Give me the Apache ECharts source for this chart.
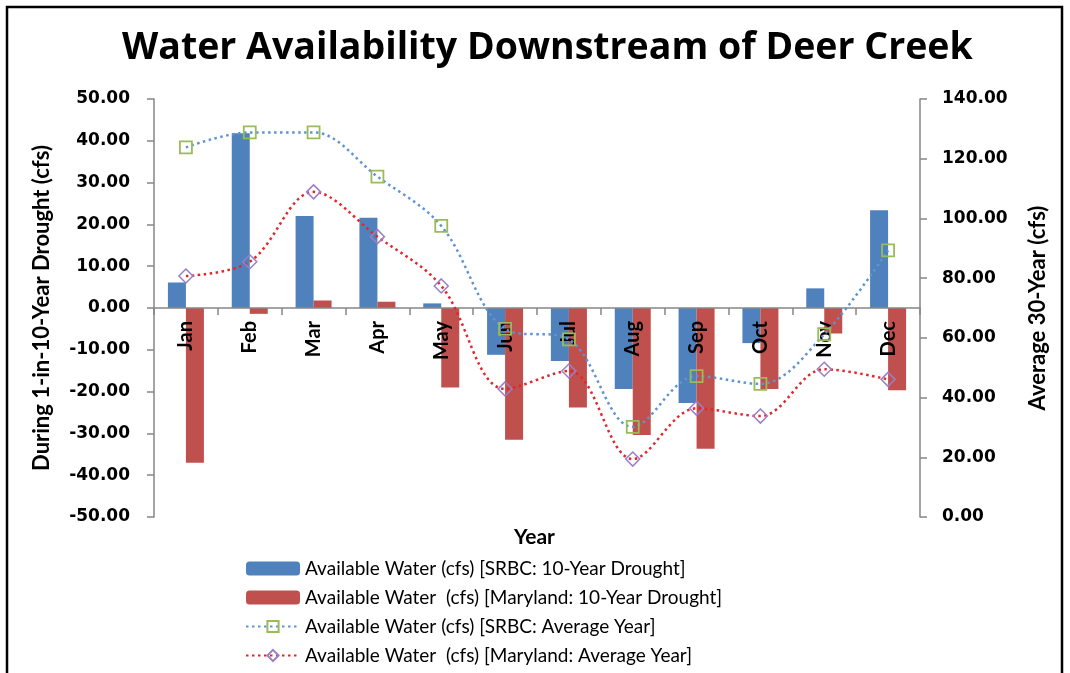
<!DOCTYPE html>
<html>
<head>
<meta charset="utf-8">
<script src="https://cdn.jsdelivr.net/npm/echarts@6/dist/echarts.min.js"></script>
<style>
html,body{margin:0;padding:0;background:#fff;}
#chart{width:1070px;height:673px;}
</style>
</head>
<body>
<div id="chart"></div>
<script>
const months = ['Jan','Feb','Mar','Apr','May','Jun','Jul','Aug','Sep','Oct','Nov','Dec'];
const srbcDrought = [6.1, 41.8, 22.0, 21.6, 1.1, -11.2, -12.7, -19.4, -22.7, -8.4, 4.7, 23.4];
const mdDrought = [-37.0, -1.4, 1.8, 1.5, -19.0, -31.5, -23.8, -30.4, -33.7, -19.4, -6.1, -19.7];
const srbcAvg = [123.8, 128.8, 128.8, 114.0, 97.5, 63.0, 59.5, 30.2, 47.2, 44.6, 61.2, 89.3];
const mdAvg = [80.7, 85.5, 108.9, 93.9, 77.4, 42.9, 48.9, 19.4, 36.4, 33.8, 49.5, 46.1];
const seriesNames = [
  'Available Water (cfs) [SRBC: 10-Year Drought]',
  'Available Water  (cfs) [Maryland: 10-Year Drought]',
  'Available Water (cfs) [SRBC: Average Year]',
  'Available Water  (cfs) [Maryland: Average Year]'
];
const titleText = 'Water Availability Downstream of Deer Creek';
const leftAxisName = 'During 1-in-10-Year Drought (cfs)';
const rightAxisName = 'Average 30-Year (cfs)';
const xAxisName = 'Year';

const FONT = 'Lato, "Open Sans", sans-serif';
const TITLEFONT = '"Open Sans", Lato, sans-serif';
const NUMFONT = '"DejaVu Sans", "Open Sans", sans-serif';
const chart = echarts.init(document.getElementById('chart'), null, {renderer: 'canvas'});
const axisGray = '#868686';
const gridTop = 99, gridBottom = 156, chartH = 673;
const plotH = chartH - gridTop - gridBottom;

chart.setOption({
  backgroundColor: '#fff',
  animation: false,
  textStyle: {fontFamily: FONT},
  title: {
    text: titleText,
    left: 122,
    top: 29,
    padding: 0,
    textStyle: {fontFamily: TITLEFONT, fontSize: 37.5, fontWeight: 'bold', color: '#000'}
  },
  graphic: [{
    type: 'rect',
    shape: {x: 7, y: 7, width: 1055, height: 700},
    style: {fill: 'none', stroke: '#000', lineWidth: 2.5},
    silent: true
  }, {
    type: 'text',
    left: 514,
    top: 527,
    style: {text: xAxisName, font: 'bold 21px ' + FONT, fill: '#000'}
  }],
  grid: {left: 154, right: 150, top: gridTop, bottom: gridBottom, containLabel: false},
  legend: {
    orient: 'vertical',
    left: 245,
    top: 559,
    height: 114,
    padding: 0,
    itemWidth: 54,
    itemHeight: 14,
    itemGap: 10,
    selectedMode: false,
    textStyle: {fontFamily: FONT, fontSize: 19, color: '#000'},
    data: seriesNames
  },
  xAxis: {
    type: 'category',
    data: months,
    boundaryGap: true,
    offset: -plotH / 2,
    z: 4,
    axisLine: {onZero: false, lineStyle: {color: axisGray, width: 1.5}},
    axisTick: {show: true, length: 7, lineStyle: {color: axisGray, width: 1.5}},
    axisLabel: {rotate: 90, margin: 13, fontFamily: FONT, fontSize: 20, fontWeight: 'bold', color: '#000'},
    splitLine: {show: false}
  },
  yAxis: [{
    type: 'value',
    min: -50, max: 50, interval: 10,
    name: leftAxisName,
    nameLocation: 'middle',
    nameGap: 101,
    nameRotate: 90,
    nameTextStyle: {fontFamily: FONT, fontSize: 22, fontWeight: 'bold', color: '#000'},
    axisLine: {show: true, lineStyle: {color: axisGray, width: 1.5}},
    axisTick: {show: true, length: 7, lineStyle: {color: axisGray, width: 1.5}},
    axisLabel: {margin: 24, fontFamily: NUMFONT, fontSize: 17, fontWeight: 'bold', color: '#000', formatter: v => v.toFixed(2)},
    splitLine: {show: false}
  }, {
    type: 'value',
    min: 0, max: 140, interval: 20,
    position: 'right',
    name: rightAxisName,
    nameLocation: 'middle',
    nameGap: 107,
    nameRotate: 90,
    nameTextStyle: {fontFamily: FONT, fontSize: 22, fontWeight: 'bold', color: '#000'},
    axisLine: {show: true, lineStyle: {color: axisGray, width: 1.5}},
    axisTick: {show: true, length: 7, lineStyle: {color: axisGray, width: 1.5}},
    axisLabel: {margin: 22, fontFamily: NUMFONT, fontSize: 17, fontWeight: 'bold', color: '#000', formatter: v => v.toFixed(2)},
    splitLine: {show: false}
  }],
  series: [{
    name: seriesNames[0],
    type: 'bar',
    data: srbcDrought,
    barWidth: 18,
    barGap: '0%',
    itemStyle: {color: '#4F81BD'},
    z: 2
  }, {
    name: seriesNames[1],
    type: 'bar',
    data: mdDrought,
    barWidth: 18,
    barGap: '0%',
    itemStyle: {color: '#C0504D'},
    z: 2
  }, {
    name: seriesNames[2],
    type: 'line',
    yAxisIndex: 1,
    data: srbcAvg,
    smooth: 0.35,
    symbol: 'rect',
    symbolSize: 12,
    showAllSymbol: true,
    lineStyle: {color: '#5F93D3', width: 2.5, type: [2.5, 3.5]},
    itemStyle: {color: 'rgba(255,255,255,0)', borderColor: '#9BBB59', borderWidth: 1.8},
    z: 5
  }, {
    name: seriesNames[3],
    type: 'line',
    yAxisIndex: 1,
    data: mdAvg,
    smooth: 0.35,
    symbol: 'diamond',
    symbolSize: 14,
    showAllSymbol: true,
    lineStyle: {color: '#E3262B', width: 2.5, type: [2.5, 3.5]},
    itemStyle: {color: 'rgba(255,255,255,0)', borderColor: '#9B7FC4', borderWidth: 1.5},
    z: 5
  }]
});
</script>
</body>
</html>
